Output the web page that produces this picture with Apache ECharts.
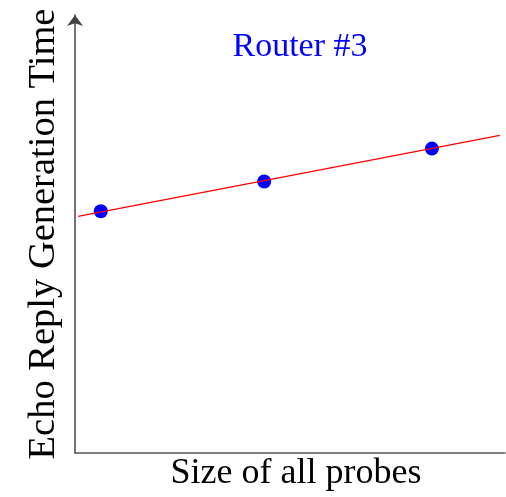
<!DOCTYPE html>
<html>
<head>
<meta charset="utf-8">
<script src="https://cdn.jsdelivr.net/npm/echarts@6/dist/echarts.min.js"></script>
<style>
html,body{margin:0;padding:0;background:#fff;}
#chart{width:506px;height:497px;}
</style>
</head>
<body>
<div id="chart"></div>
<script>
var titleText = "Router #3";
var xAxisName = "Size of all probes";
var yAxisName = "Echo Reply Generation Time";
var probeSizes = [6, 44, 83];
var replyTimes = [55.2, 62.0, 69.5];
var fitX = [0.7, 98.8];
var fitY = [54.0, 72.5];

var serif = "'Liberation Serif','DejaVu Serif',serif";
var chart = echarts.init(document.getElementById('chart'));
chart.setOption({
  animation: false,
  backgroundColor: '#fff',
  title: {
    text: titleText,
    left: 295, top: 25, textAlign: 'center',
    textStyle: {color: '#0000ff', fontFamily: serif, fontSize: 34, fontWeight: 'normal'}
  },
  grid: {left: 75, right: 1, top: 15, bottom: 41, containLabel: false},
  xAxis: {
    type: 'value', min: 0, max: 100, interval: 100,
    name: xAxisName, nameLocation: 'middle', nameGap: 3,
    nameTextStyle: {color: '#000', fontFamily: serif, fontSize: 36, verticalAlign: 'top', padding: [0, 0, 0, 12]},
    axisLine: {show: true, lineStyle: {color: '#555', width: 1.5}},
    axisTick: {show: false}, axisLabel: {show: false}, splitLine: {show: false}
  },
  yAxis: {
    type: 'value', min: 0, max: 100, interval: 100,
    name: yAxisName, nameLocation: 'middle', nameGap: 12, nameRotate: 90,
    nameTextStyle: {color: '#000', fontFamily: serif, fontSize: 38.5},
    axisLine: {show: true, symbol: ['none', 'arrow'], symbolSize: [12, 11], lineStyle: {color: '#444', width: 1.5}},
    axisTick: {show: false}, axisLabel: {show: false}, splitLine: {show: false}
  },
  series: [
    {
      type: 'line',
      data: fitX.map(function (x, i) { return [x, fitY[i]]; }),
      showSymbol: false, symbol: 'none',
      lineStyle: {color: '#ff0000', width: 1.3}
    },
    {
      type: 'scatter',
      data: probeSizes.map(function (x, i) { return [x, replyTimes[i]]; }),
      symbolSize: 14,
      itemStyle: {color: '#0000ff', opacity: 1}
    }
  ]
});
</script>
</body>
</html>
